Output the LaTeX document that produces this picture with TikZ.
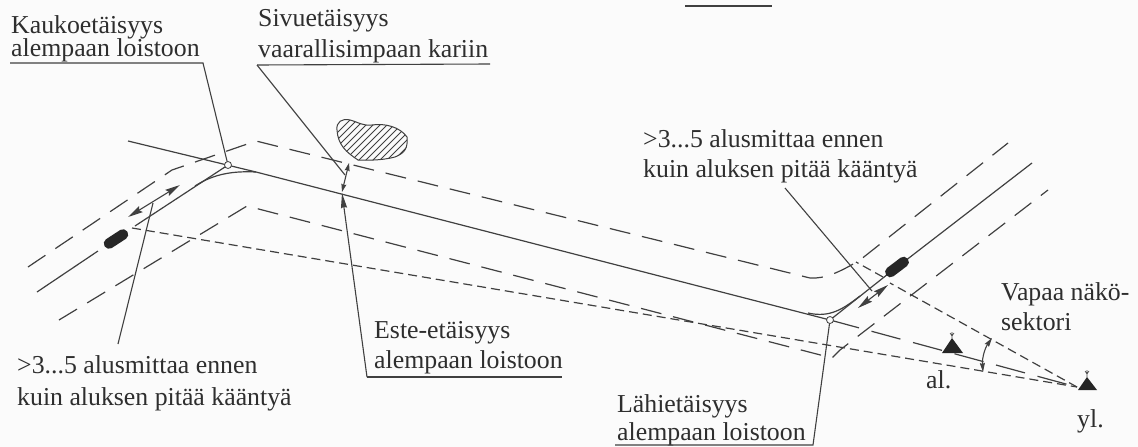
\documentclass[tikz,border=0pt]{standalone}
\usepackage{fontspec}
\setmainfont{Liberation Serif}
\usepackage{tikz}
\usetikzlibrary{calc,arrows.meta}
\definecolor{scanline}{gray}{0.25}
\definecolor{scanpaper}{gray}{0.985}
\tikzset{
  label text/.style={anchor=base west,align=left,inner sep=0pt,text=black!82,font=\fontsize{25.8}{30}\selectfont},
  track/.style={scanline,line width=1.2pt},
  boundary/.style={scanline,line width=1.2pt,dash pattern=on 21pt off 12pt},
  sight/.style={scanline,line width=1.2pt,dash pattern=on 9pt off 5pt},
  leader/.style={scanline,line width=1.1pt},
  vessel/.style={fill=black!85,rounded corners=5pt,minimum width=27pt,minimum height=10.5pt,inner sep=0pt},
  beacon/.style={fill=black!85},
  duo/.style={scanline,line width=1.1pt,{Stealth[length=15pt,width=7pt,inset=2pt]}-{Stealth[length=15pt,width=7pt,inset=2pt]}}
}
\begin{document}
\begin{tikzpicture}[x=1pt,y=-1pt]
\fill[scanpaper] (0,0) rectangle (1138,447);
\useasboundingbox (0,0) rectangle (1138,447);
\node[label text] at (11,33) (Kauko) {Kaukoetäisyys};
\node[label text] at (11,56) (Kaukotwo) {alempaan loistoon};
\node[label text] at (258,27) (Sivu) {Sivuetäisyys};
\node[label text] at (258,57) (Sivutwo) {vaarallisimpaan kariin};
\node[label text] at (643,147) (Ylare) {>3...5 alusmittaa ennen};
\node[label text] at (643,177) (Ylaretwo) {kuin aluksen pitää kääntyä};
\node[label text] at (374,338) (Este) {Este-etäisyys};
\node[label text] at (374,368) (Estetwo) {alempaan loistoon};
\node[label text] at (17,373) (Alare) {>3...5 alusmittaa ennen};
\node[label text] at (17,405) (Alaretwo) {kuin aluksen pitää kääntyä};
\node[label text] at (617,412) (Lahi) {Lähietäisyys};
\node[label text] at (617,440) (Lahitwo) {alempaan loistoon};
\node[label text] at (1001,300) (Vapaa) {Vapaa näkö-};
\node[label text] at (1001,330) (Vapaatwo) {sektori};
\node[label text] at (926,388) (al) {al.};
\node[label text] at (1077,427) (yl) {yl.};
\coordinate (Turnone) at (228,165);
\coordinate (Turntwo) at (830,320);
\coordinate (Lightup) at (1077,387);
\coordinate (Kaukoend) at (203,63);
\coordinate (Sivuend) at (257,65);
\coordinate (Esteend) at (367,377);
\coordinate (Lahiend) at (813,445);
% track
\draw[track] (128,141) -- (256,172) -- (Turntwo);
\draw[track] (37,292) -- (98,251);
\draw[track] (135,226) -- (Turnone);
\draw[track] (195,186) .. controls (215,173) and (235,171) .. (256,172);
\draw[track] (808,313) .. controls (830,318) and (843,309) .. (860,296);
\draw[track] (Turntwo) -- (888,274);
\draw[track] (905,261) -- (1032,163);
\draw[track,dash pattern=on 30pt off 13pt] (Turntwo) -- (Lightup);
% fairway edges
\draw[boundary] (28,267) -- (172,170) -- (256,141) -- (810,278) .. controls (825,279) and (840,272) .. (860,260) -- (1008,143);
\draw[boundary] (59,320) -- (247,206) -- (832,358) -- (840,350) -- (1048,190);
% sight lines
\draw[sight] (132,228) -- (Lightup);
\draw[sight] (Lightup) -- (890,283);
\draw[sight] (883,277) -- (856,262);
% leaders
\draw[leader] (10,63) -- (Kaukoend) -- (Turnone);
\draw[leader] (Sivuend) -- (490,64);
\draw[leader] (Sivuend) -- (345,175);
\draw[leader] (785,188) -- (872,291);
\draw[leader] (Esteend) -- (562,377);
\draw[leader,-{Stealth[length=15pt,width=6pt,inset=1pt]}] (Esteend) -- (342,193);
\draw[leader,{Stealth[length=8pt,width=5pt,inset=1pt]}-{Stealth[length=8pt,width=5pt,inset=1pt]}] (342,192) -- (349,163);
\draw[leader] (153,203) -- (118,344);
\draw[leader] (615,445) -- (Lahiend) -- (Turntwo);
\draw[duo] (128,217) -- (180,185);
\draw[duo] (858,308) -- (888,285);
\draw[scanline,line width=1.1pt,{Stealth[length=9pt,width=5pt,inset=1pt]}-{Stealth[length=9pt,width=5pt,inset=1pt]}] (983,372) .. controls (982,358) and (985,348) .. (992,338);
% turning points
\node[draw=scanline,fill=scanpaper,circle,minimum size=7pt,inner sep=0pt,line width=.8pt] at (Turnone) (Circleone) {};
\node[draw=scanline,fill=scanpaper,circle,minimum size=7pt,inner sep=0pt,line width=.8pt] at (Turntwo) (Circletwo) {};
% vessels
\node[vessel,rotate=33] at (116,239) (Shipone) {};
\node[vessel,rotate=37] at (897,267) (Shiptwo) {};
% lights
\fill[beacon] (942,353) -- (952,338) -- (963,353) -- cycle;
\draw[leader,line width=.6pt] (952,338) -- (952,332) (950,333) -- (952,336) -- (954,333);
\fill[beacon] (1078,390) -- (1087,377) -- (1097,390) -- cycle;
\draw[leader,line width=.6pt] (1087,377) -- (1087,370) (1085,371) -- (1087,374) -- (1089,371);
% reef
\begin{scope}
\clip (337,130) .. controls (336,122) and (342,118) .. (350,120) .. controls (358,122) and (362,126) .. (372,125) .. controls (385,123) and (400,127) .. (407,137) .. controls (408,148) and (405,153) .. (395,157) .. controls (380,161) and (365,160) .. (358,160) .. controls (346,152) and (338,145) .. (337,130);
\foreach \i in {0,7,...,105} {
  \draw[scanline,line width=.9pt] (300+\i,170) -- (300+\i+55,115);
}
\end{scope}
\draw[scanline,line width=1pt] (337,130) .. controls (336,122) and (342,118) .. (350,120) .. controls (358,122) and (362,126) .. (372,125) .. controls (385,123) and (400,127) .. (407,137) .. controls (408,148) and (405,153) .. (395,157) .. controls (380,161) and (365,160) .. (358,160) .. controls (346,152) and (338,145) .. (337,130);
% top rule
\coordinate (Ruleone) at (685,6);
\coordinate (Ruletwo) at (772,6);
\draw[leader] (Ruleone) -- (Ruletwo);
\end{tikzpicture}
\end{document}
